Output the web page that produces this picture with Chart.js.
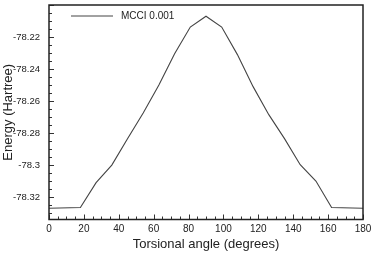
<!DOCTYPE html>
<html>
<head>
<meta charset="utf-8">
<script src="https://cdn.jsdelivr.net/npm/chart.js@4/dist/chart.umd.min.js"></script>
<style>
  html, body { margin: 0; padding: 0; background: #fff; }
  #wrap { width: 374px; height: 264px; }
</style>
</head>
<body>
<div id="wrap"><canvas id="grafico" width="374" height="264"></canvas></div>
<script>
// torsional angle (degrees) and energy (Hartree)
const angulos = [0, 18, 27, 36, 45, 54, 63, 72, 81, 90, 99, 108, 117, 126, 135, 144, 153, 162, 180];
const energia = [-78.327, -78.3265, -78.311, -78.300, -78.2835, -78.2675, -78.250, -78.2305, -78.2138, -78.207,
                 -78.2138, -78.231, -78.251, -78.2685, -78.2835, -78.2998, -78.310, -78.3265, -78.327];
const etiquetasX = [0, 20, 40, 60, 80, 100, 120, 140, 160, 180];
const etiquetasY = [-78.32, -78.3, -78.28, -78.26, -78.24, -78.22];
const nombreSerie = 'MCCI 0.001';

const fuente = '"Liberation Sans", Arial, Helvetica, sans-serif';
const tinta = '#222';

// frame, inward ticks and the legend
const marco = {
    id: 'marco',
    afterDraw(chart) {
        const { ctx, chartArea: a, scales } = chart;
        const x = scales.x, y = scales.y;
        ctx.save();
        ctx.strokeStyle = '#333';
        ctx.lineWidth = 1;

        // minor ticks every 5 degrees, major every 20
        for (let g = 0; g <= 180; g += 5) {
            const px = Math.round(x.getPixelForValue(g)) + 0.5;
            const largo = etiquetasX.includes(g) ? 5 : 3;
            ctx.beginPath();
            ctx.moveTo(px, a.bottom);
            ctx.lineTo(px, a.bottom - largo);
            ctx.stroke();
        }
        // minor ticks every 0.005 Hartree
        for (let k = 78330; k >= 78200; k -= 5) {
            const py = Math.round(y.getPixelForValue(-k / 1000)) + 0.5;
            const largo = k % 20 === 0 ? 5 : 3;
            ctx.beginPath();
            ctx.moveTo(a.left, py);
            ctx.lineTo(a.left + largo, py);
            ctx.stroke();
        }

        ctx.lineWidth = 1.5;
        ctx.strokeStyle = '#222';
        ctx.strokeRect(a.left, a.top, a.right - a.left, a.bottom - a.top);

        // legend
        const ly = a.top + 11;
        ctx.lineWidth = 1;
        ctx.strokeStyle = '#444';
        ctx.beginPath();
        ctx.moveTo(a.left + 22, ly);
        ctx.lineTo(a.left + 64, ly);
        ctx.stroke();
        ctx.fillStyle = tinta;
        ctx.font = '10px ' + fuente;
        ctx.textBaseline = 'middle';
        ctx.fillText(nombreSerie, a.left + 72, ly);
        ctx.restore();
    }
};

const sinRelleno = s => { s.paddingTop = 0; s.paddingBottom = 0; s.paddingLeft = 0; s.paddingRight = 0; };

new Chart(document.getElementById('grafico'), {
    type: 'line',
    data: {
        datasets: [{
            label: nombreSerie,
            data: angulos.map((a, i) => ({ x: a, y: energia[i] })),
            borderColor: '#444',
            borderWidth: 1.1,
            pointRadius: 0,
            tension: 0,
            fill: false
        }]
    },
    options: {
        responsive: false,
        animation: false,
        devicePixelRatio: 1,
        layout: { padding: { top: 5, right: 11, left: 0, bottom: 0 } },
        plugins: { legend: { display: false }, tooltip: { enabled: false } },
        scales: {
            x: {
                type: 'linear',
                min: 0,
                max: 180,
                afterBuildTicks: s => { s.ticks = etiquetasX.map(v => ({ value: v })); },
                afterFit: s => { s.height = 44.5; sinRelleno(s); },
                grid: { display: false, drawTicks: false },
                border: { display: false },
                ticks: { padding: 4, maxRotation: 0, autoSkip: false, color: tinta, font: { family: fuente, size: 10 } },
                title: { display: true, text: 'Torsional angle (degrees)', color: tinta, padding: { top: 0, bottom: 12 }, font: { family: fuente, size: 13 } }
            },
            y: {
                min: -78.334,
                max: -78.2,
                afterBuildTicks: s => { s.ticks = etiquetasY.map(v => ({ value: v })); },
                afterFit: s => { s.width = 49; sinRelleno(s); },
                grid: { display: false, drawTicks: false },
                border: { display: false },
                ticks: { padding: 9, autoSkip: false, color: tinta, font: { family: fuente, size: 9.5 }, callback: v => String(v) },
                title: { display: true, text: 'Energy (Hartree)', color: tinta, padding: { top: 1, bottom: 0 }, font: { family: fuente, size: 13 } }
            }
        }
    },
    plugins: [marco]
});
</script>
</body>
</html>
